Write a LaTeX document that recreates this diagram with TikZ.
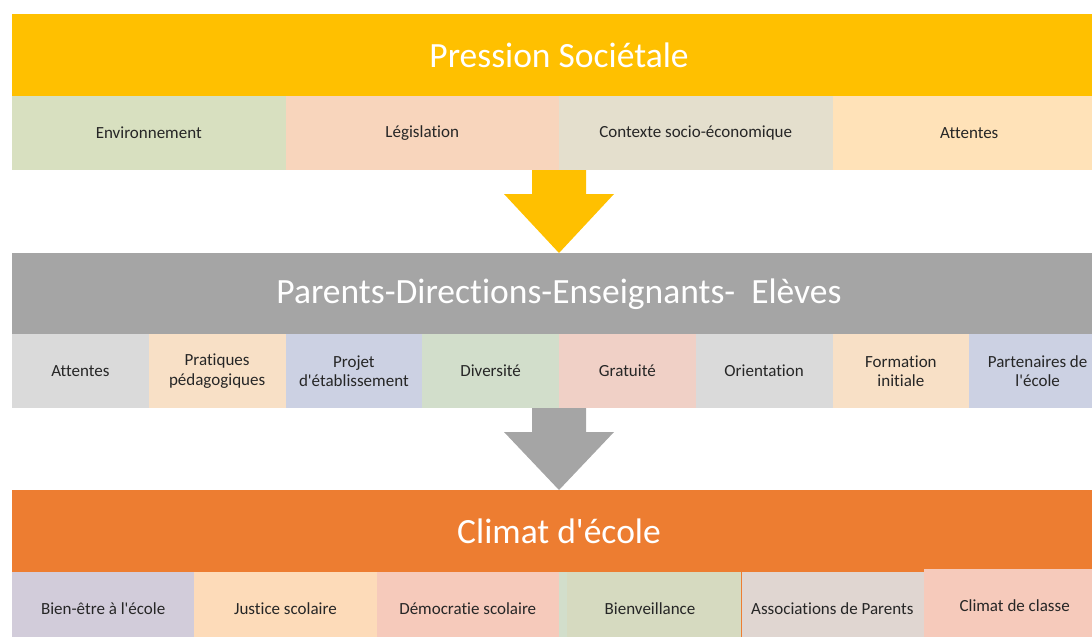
\documentclass[tikz,border=0pt]{standalone}
\usepackage{fontspec}
\setmainfont{Carlito}[Ligatures=NoCommon]
\usetikzlibrary{positioning,calc}

\definecolor{jaune}{HTML}{FFC000}
\definecolor{gris}{HTML}{A5A5A5}
\definecolor{orangeband}{HTML}{ED7D31}
\definecolor{vertA}{HTML}{D8E0C0}
\definecolor{pecheA}{HTML}{F8D5BC}
\definecolor{beigeA}{HTML}{E4DFCD}
\definecolor{cremeA}{HTML}{FFE2B8}
\definecolor{grisB}{HTML}{DADADA}
\definecolor{pecheB}{HTML}{F8E0C6}
\definecolor{bleuB}{HTML}{CCD1E3}
\definecolor{vertB}{HTML}{D2DECB}
\definecolor{roseB}{HTML}{F0D0C6}
\definecolor{lilasC}{HTML}{D2CCDA}
\definecolor{cremeC}{HTML}{FDDBB9}
\definecolor{saumonC}{HTML}{F6CABB}
\definecolor{vertC}{HTML}{D6DAC0}
\definecolor{taupeC}{HTML}{E0D6D1}
\definecolor{texte}{HTML}{262626}

\newcommand{\grosseFleche}[3]{%
  \fill[#3] ($(#1)+(-27,0)$) -- ($(#1)+(27,0)$) -- ($(#1)+(27,-24)$)
    -- ($(#1)+(55,-24)$) -- (#2) -- ($(#1)+(-55,-24)$)
    -- ($(#1)+(-27,-24)$) -- cycle;}
\newcommand{\apos}{\textquotesingle}

\begin{document}
\begin{tikzpicture}[x=1pt,y=1pt,
    band/.style={fill=#1, anchor=north west, minimum width=1094, minimum height=82,
      inner sep=0pt, outer sep=0pt, text=white, font=\fontsize{35.5}{42}\selectfont},
    cell/.style={fill=#1, anchor=north west, minimum height=74, inner sep=0pt,
      outer sep=0pt, align=center, text=texte, font=\fontsize{17}{19.5}\selectfont}]
  \useasboundingbox (0,0) rectangle (1092,-637);
  \clip (0,0) rectangle (1092,-637);

  % pression societale
  \node[band=jaune] (pression) at (12,-14) {Pression Sociétale};
  \node[cell=vertA, minimum width=273.5] (env) at (12,-96) {Environnement};
  \node[cell=pecheA, minimum width=273.5, right=0pt of env] (legis) {Législation};
  \node[cell=beigeA, minimum width=273.5, right=0pt of legis] (contexte) {Contexte socio-économique};
  \node[cell=cremeA, minimum width=273.5, right=0pt of contexte] (attentesA) {Attentes};

  % acteurs
  \node[band=gris] (acteurs) at (12,-253) {Parents-Directions-Enseignants-\ \ Elèves};
  \node[cell=grisB, minimum width=136.75] (attentesB) at (12,-334) {Attentes};
  \node[cell=pecheB, minimum width=136.75, right=0pt of attentesB] (pratiques) {Pratiques\\pédagogiques};
  \node[cell=bleuB, minimum width=136.75, right=0pt of pratiques] (projet) {Projet\\d\apos établissement};
  \node[cell=vertB, minimum width=136.75, right=0pt of projet] (diversite) {Diversité};
  \node[cell=roseB, minimum width=136.75, right=0pt of diversite] (gratuite) {Gratuité};
  \node[cell=grisB, minimum width=136.75, right=0pt of gratuite] (orientation) {Orientation};
  \node[cell=pecheB, minimum width=136.75, right=0pt of orientation] (formation) {Formation\\initiale};
  \node[cell=bleuB, minimum width=136.75, right=0pt of formation] (partenaires) {Partenaires de\\l\apos école};

  % climat d'ecole
  \node[band=orangeband] (climat) at (12,-490) {Climat d\apos école};
  \node[cell=lilasC, minimum width=182.3] (bienetre) at (12,-572) {Bien-être à l\apos école};
  \node[cell=cremeC, minimum width=182.3, right=0pt of bienetre] (justice) {Justice scolaire};
  \node[cell=saumonC, minimum width=182.3, right=0pt of justice] (democratie) {Démocratie scolaire};
  \node[cell=vertC, minimum width=182.3, right=0pt of democratie] (bienveillance) {Bienveillance};
  \node[cell=taupeC, minimum width=182.3, right=0pt of bienveillance] (associations) {Associations de Parents};
  \node[cell=saumonC, minimum width=182.3, anchor=north west] (classe)
    at ($(associations.north east)+(0,3)$) {Climat de classe};
  \fill[vertB] (bienveillance.north west) rectangle ($(bienveillance.south west)+(8,0)$);
  \draw[orangeband, line width=1pt] (bienveillance.north east) -- (bienveillance.south east);

  % fleches
  \grosseFleche{legis.south east}{acteurs.north}{jaune}
  \grosseFleche{gratuite.south west}{climat.north}{gris}
\end{tikzpicture}
\end{document}
